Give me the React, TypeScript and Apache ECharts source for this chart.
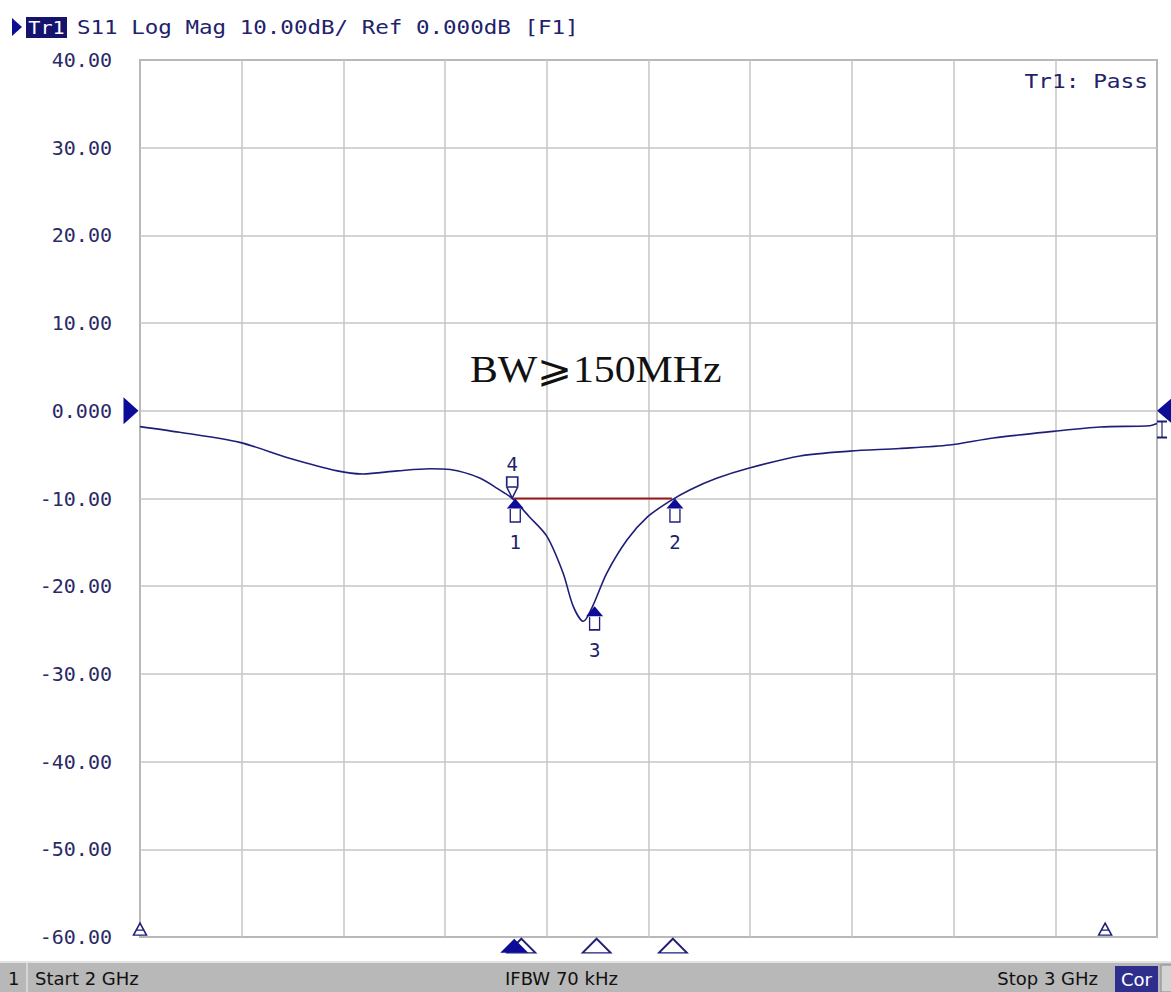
import React, { useEffect, useRef } from "react";
import * as echarts from "echarts";

// Trace S11 (frequency in GHz, magnitude in dB)
const freqGHz = [2.0, 2.039, 2.098, 2.147, 2.194, 2.219, 2.253, 2.285, 2.305, 2.334, 2.352, 2.366, 2.383, 2.4, 2.416, 2.426, 2.436, 2.445, 2.459, 2.479, 2.499, 2.521, 2.541, 2.567, 2.6, 2.649, 2.698, 2.747, 2.796, 2.839, 2.898, 2.944, 2.993, 3.0];
const s11dB = [-1.8, -2.45, -3.6, -5.4, -6.85, -7.2, -6.85, -6.6, -6.7, -7.65, -8.9, -10.0, -12.1, -14.3, -18.5, -22.3, -24.0, -22.3, -18.5, -14.7, -12.1, -10.3, -9.0, -7.7, -6.5, -5.15, -4.6, -4.3, -3.9, -3.1, -2.35, -1.85, -1.7, -1.45];

// Markers below the trace (1,2,3) and above (4)
const markerNames = ["1", "2", "3"];
const markerFreq = [2.369, 2.526, 2.447];
const markerDb = [-10.0, -10.0, -22.3];
const marker4Freq = 2.366;
const marker4Db = -10.0;

// Bandwidth line (-10 dB)
const bwFreq = [2.367, 2.523];
const bwDb = [-10, -10];

// Marker frequency indicators along the bottom
const indFilledFreq = [2.368];
const indHollowFreq = [2.375, 2.449, 2.524];
const indLevel = -61.0;

// Small limit markers at the bottom
const edgeMarkFreq = [2.0, 2.949];
const edgeMarkDb = [-59.1, -59.1];

// Axis ticks
const yMin = -60;
const yMax = 40;
const yStep = 10;
const xMin = 2;
const xMax = 3;
const xStep = 0.1;

const NAVY = "#1e1e78";
const FILL_NAVY = "#0c0c96";
const TEXT_NAVY = "#22226a";
const MONO = '"DejaVu Sans Mono", monospace';

export default function App() {
  const ref = useRef<HTMLDivElement>(null);

  useEffect(() => {
    if (!ref.current) return;
    const chart = echarts.init(ref.current, null, { renderer: "svg" });

    const txt = (
      text: string,
      x: number,
      y: number,
      font: string,
      fill: string,
      align: string = "left",
      scaleX: number = 1
    ) => ({
      type: "text",
      x,
      y,
      scaleX,
      silent: true,
      z: 100,
      style: {
        text,
        font,
        fill,
        textAlign: align,
        textVerticalAlign: "middle",
        align,
        verticalAlign: "middle",
      },
    });

    const markerLabel = {
      show: true,
      color: TEXT_NAVY,
      fontFamily: "DejaVu Sans Mono",
      fontSize: 19,
      opacity: 1,
      formatter: (p: any) => p.name,
    };

    const option: any = {
      animation: false,
      backgroundColor: "#ffffff",
      grid: {
        left: 140,
        top: 60,
        width: 1017,
        height: 877,
        show: true,
        borderColor: "#6e6e6e",
        borderWidth: 1.5,
        backgroundColor: "transparent",
      },
      xAxis: {
        type: "value",
        min: xMin,
        max: xMax,
        interval: xStep,
        axisLabel: { show: false },
        axisTick: { show: false },
        axisLine: { show: false },
        splitLine: { show: true, lineStyle: { color: "#c6c6c6", width: 1.5 } },
      },
      yAxis: {
        type: "value",
        min: yMin,
        max: yMax,
        interval: yStep,
        axisTick: { show: false },
        axisLine: { show: false },
        axisLabel: {
          margin: 28,
          color: "#2a2a66",
          fontFamily: "DejaVu Sans Mono",
          fontSize: 20,
          formatter: (v: number) => (v === 0 ? "0.000" : v.toFixed(2)),
        },
        splitLine: { show: true, lineStyle: { color: "#c6c6c6", width: 1.5 } },
      },
      series: [
        {
          type: "line",
          name: "S11",
          data: freqGHz.map((f, i) => [f, s11dB[i]]),
          showSymbol: false,
          smooth: 0.3,
          lineStyle: { color: NAVY, width: 1.6 },
          z: 5,
        },
        {
          type: "line",
          name: "BW",
          data: bwFreq.map((f, i) => [f, bwDb[i]]),
          showSymbol: false,
          lineStyle: { color: "#9a1a1a", width: 2 },
          z: 4,
        },
        // filled triangles of markers 1-3 (tip at the trace)
        {
          type: "scatter",
          data: markerFreq.map((f, i) => [f, markerDb[i]]),
          symbol: "triangle",
          symbolSize: [17, 10],
          symbolOffset: [0, 5],
          itemStyle: { color: FILL_NAVY, opacity: 1 },
          z: 10,
        },
        // hollow stems with labels
        {
          type: "scatter",
          data: markerFreq.map((f, i) => ({ value: [f, markerDb[i]], name: markerNames[i] })),
          symbol: "path://M0,0 L0,14 L12,14 L12,0",
          symbolSize: [10, 13],
          symbolOffset: [0, 17],
          itemStyle: { color: "#ffffff", borderColor: NAVY, borderWidth: 1.5, opacity: 1 },
          label: { ...markerLabel, position: "bottom", distance: 10 },
          z: 9,
        },
        // marker 4 (above the trace)
        {
          type: "scatter",
          data: [[marker4Freq, marker4Db]],
          symbol: "path://M0,0 L12,0 L6,12 Z",
          symbolSize: [11, 11],
          symbolOffset: [0, -6],
          itemStyle: { color: "#ffffff", borderColor: NAVY, borderWidth: 1.5, opacity: 1 },
          z: 9,
        },
        {
          type: "scatter",
          data: [{ value: [marker4Freq, marker4Db], name: "4" }],
          symbol: "path://M0,14 L0,0 L12,0 L12,14",
          symbolSize: [11, 9],
          symbolOffset: [0, -17],
          itemStyle: { color: "#ffffff", borderColor: NAVY, borderWidth: 1.5, opacity: 1 },
          label: { ...markerLabel, position: "top", distance: 3 },
          z: 9,
        },
        // bottom indicators
        {
          type: "scatter",
          data: indHollowFreq.map((f) => [f, indLevel]),
          symbol: "triangle",
          symbolSize: [28, 14],
          clip: false,
          itemStyle: { color: "#ffffff", borderColor: NAVY, borderWidth: 1.8, opacity: 1 },
          z: 8,
        },
        {
          type: "scatter",
          data: indFilledFreq.map((f) => [f, indLevel]),
          symbol: "triangle",
          symbolSize: [28, 14],
          clip: false,
          itemStyle: { color: FILL_NAVY, opacity: 1 },
          z: 9,
        },
        // edge marks at -60
        {
          type: "scatter",
          data: edgeMarkFreq.map((f, i) => [f, edgeMarkDb[i]]),
          symbol: "path://M6,0 L12,12 L0,12 Z M3,7 L9,7",
          symbolSize: [13, 12],
          clip: false,
          itemStyle: { color: "#ffffff", borderColor: NAVY, borderWidth: 1.5, opacity: 1 },
          z: 8,
        },
        // reference level arrows
        {
          type: "scatter",
          data: [[xMin, 0]],
          symbol: "path://M0,0 L15,13.5 L0,27 Z",
          symbolSize: [15, 27],
          symbolOffset: [-9, 0],
          clip: false,
          itemStyle: { color: FILL_NAVY, opacity: 1 },
          z: 12,
        },
        {
          type: "scatter",
          data: [[xMax, 0]],
          symbol: "path://M0,12 L14,0 L28,12 L14,24 Z",
          symbolSize: [28, 24],
          symbolOffset: [14, 0],
          clip: false,
          itemStyle: { color: FILL_NAVY, opacity: 1 },
          z: 12,
        },
        {
          type: "scatter",
          data: [[xMax, -1.45]],
          symbol: "path://M0,0 L10,0 M5,0 L5,16 M0,16 L10,16",
          symbolSize: [10, 16],
          symbolOffset: [5, 6],
          clip: false,
          itemStyle: { color: "none", borderColor: NAVY, borderWidth: 1.5, opacity: 1 },
          z: 12,
        },
      ],
      graphic: [
        // header
        { type: "polygon", silent: true, shape: { points: [[12, 18], [22, 27], [12, 36]] }, style: { fill: FILL_NAVY } },
        { type: "rect", silent: true, shape: { x: 26, y: 17, width: 41, height: 21 }, style: { fill: "#14146e" } },
        txt("Tr1", 46.5, 27.5, `18px ${MONO}`, "#ffffff", "center", 1.12),
        txt("S11 Log Mag 10.00dB/ Ref 0.000dB [F1]", 77, 27.5, `19px ${MONO}`, TEXT_NAVY, "left", 1.186),
        txt("Tr1: Pass", 1148, 82, `19px ${MONO}`, TEXT_NAVY, "right", 1.2),
        // annotation
        txt("BW⩾150MHz", 470, 369, '38px "Liberation Serif", "DejaVu Serif", serif', "#111111", "left", 1.1),
        // status bar
        { type: "rect", silent: true, shape: { x: 0, y: 962, width: 1171, height: 30 }, style: { fill: "#b8b8b8" } },
        { type: "rect", silent: true, shape: { x: 0, y: 961, width: 1171, height: 2 }, style: { fill: "#e2e2e2" } },
        { type: "rect", silent: true, shape: { x: 26, y: 963, width: 2, height: 29 }, style: { fill: "#d6d6d6" } },
        txt("1", 8, 978, '18px "DejaVu Sans", sans-serif', "#111111"),
        txt("Start 2 GHz", 35, 978, '18px "DejaVu Sans", sans-serif', "#111111"),
        txt("IFBW 70 kHz", 505, 978, '18px "DejaVu Sans", sans-serif', "#111111"),
        txt("Stop 3 GHz", 1098, 978, '18px "DejaVu Sans", sans-serif', "#111111", "right"),
        { type: "rect", silent: true, shape: { x: 1115, y: 966, width: 43, height: 26 }, style: { fill: "#2e2e8c" } },
        txt("Cor", 1136.5, 979, '18px "DejaVu Sans", sans-serif', "#ffffff", "center"),
        { type: "rect", silent: true, shape: { x: 1161, y: 965, width: 12, height: 27 }, style: { fill: "#d4d4d4", stroke: "#8a8a8a", lineWidth: 1 } },
      ],
    };

    chart.setOption(option);
    return () => chart.dispose();
  }, []);

  return (
    <div
      ref={ref}
      style={{ position: "fixed", left: 0, top: 0, width: 1171, height: 992, background: "#ffffff" }}
    />
  );
}
